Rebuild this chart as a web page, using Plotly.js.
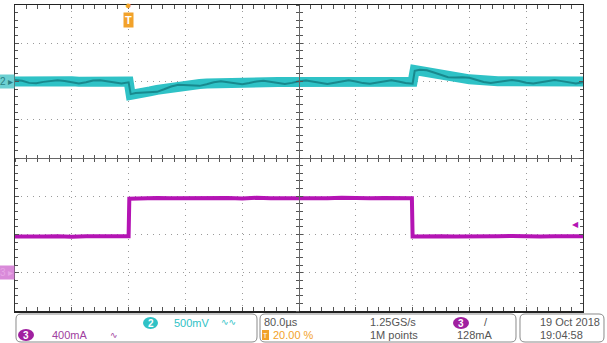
<!DOCTYPE html>
<html><head><meta charset="utf-8">
<script src="https://cdn.plot.ly/plotly-3.0.1.min.js"></script>
<style>html,body{margin:0;padding:0;background:#fff;}#chart{width:607px;height:343px;}</style>
</head><body><div id="chart"></div>
<script>
// ---- data ----
// Channel 2 (output voltage, AC view), time in µs, values in mV relative to its marker
const ch2Time = [-160,-150,-140,-130,-120,-110,-100,-90,-80,-70,-60,-50,-40,-30,-20,-10,0,
  3,10,20,30,40,50,60,70,80,90,100,110,120,130,140,150,160,170,180,190,200,210,220,230,240,250,260,270,280,290,300,310,320,330,340,350,360,370,380,390,400,
  403,410,420,430,440,450,460,470,480,490,500,510,520,530,540,550,560,570,580,590,600,610,620,630,640];
const ch2Band = [0,4,-3,2,5,0,-4,2,4,-2,0,3,-3,1,4,0,0,
  -175,-170,-150,-130,-110,-92,-76,-62,-50,-40,-32,-26,-21,-17,-14,-12,-11,-10,-9,-9,-8,-8,-7,-8,-7,-6,-7,-6,-6,-5,-6,-5,-5,-6,-5,-5,-4,-5,-4,-5,-4,
  150,142,128,112,96,80,62,45,28,16,9,5,3,2,0,1,-1,0,1,0,-1,0,1,0,0];
const ch2Ripple = [20,9,-18,-23,-5,10,16,7,-11,-27,-10,13,17,6,-11,-25,-10,
  -165,-150,-145,-145,-135,-102,-66,-42,-45,-55,-57,-36,-11,3,-9,-27,-36,-20,1,11,-3,-23,-32,-18,3,14,-2,-21,-31,-15,4,15,0,-21,-30,-15,6,15,1,-20,-29,
  140,152,148,117,81,55,52,55,48,21,-6,-20,-7,12,20,6,-16,-25,-9,10,19,5,-14,-25,-10];
// Channel 3 (load current), time in µs, values in mA
const ch3Time = [-160,-140,-120,-100,-80,-60,-40,-20,0,
  1,20,40,60,80,100,120,140,160,180,200,220,240,260,280,300,320,340,360,380,399,
  400,420,440,460,480,500,520,540,560,580,600,620,640];
const ch3Current = [378,384,380,383,377,382,385,379,381,
  775,780,783,778,781,785,779,782,777,784,780,778,783,781,779,785,780,778,782,783,779,
  380,376,382,379,383,377,381,384,378,380,383,379,382];
const triggerLevel = 500; // mA marker position
// readouts
const ch2Scale = "500mV", ch3Scale = "400mA", timeScale = "80.0µs", sampleRate = "1.25GS/s",
      trigPos = "20.00 %", recLen = "1M points", trigLvl = "128mA", dateTxt = "19 Oct 2018", timeTxt = "19:04:58";

// ---- layout helpers ----
const L = 15, T = 5, W = 568, H = 306;
const px = x => (x - L) / W;
const py = y => (T + H - y) / H;
function rrect(x0, y0, x1, y1, r) {
  const p = (x, y) => px(x).toFixed(5) + ',' + py(y).toFixed(5);
  return 'M' + p(x0 + r, y0) + ' L' + p(x1 - r, y0) + ' Q' + p(x1, y0) + ' ' + p(x1, y0 + r) +
    ' L' + p(x1, y1 - r) + ' Q' + p(x1, y1) + ' ' + p(x1 - r, y1) +
    ' L' + p(x0 + r, y1) + ' Q' + p(x0, y1) + ' ' + p(x0, y1 - r) +
    ' L' + p(x0, y0 + r) + ' Q' + p(x0, y0) + ' ' + p(x0 + r, y0) + ' Z';
}
const cyan = '#2fc2c6', cyanDark = '#137a80', mag = '#b414b4', orange = '#f2a22a', grey = '#555';

const traces = [
  {x: ch2Time, y: ch2Band, type: 'scatter', mode: 'lines', line: {color: cyan, width: 10}, xaxis: 'x', yaxis: 'y', hoverinfo: 'skip'},
  {x: ch2Time, y: ch2Ripple, type: 'scatter', mode: 'lines', line: {color: cyanDark, width: 2}, opacity: 0.8, xaxis: 'x', yaxis: 'y', hoverinfo: 'skip'},
  {x: ch3Time, y: ch3Current, type: 'scatter', mode: 'lines', line: {color: mag, width: 4}, xaxis: 'x', yaxis: 'y2', hoverinfo: 'skip'},
  // empty traces so the centre-cross axes get drawn
  {x: [], y: [], type: 'scatter', mode: 'lines', xaxis: 'x2', yaxis: 'y3', hoverinfo: 'skip'},
  {x: [], y: [], type: 'scatter', mode: 'lines', xaxis: 'x3', yaxis: 'y4', hoverinfo: 'skip'}
];

const baseAx = {showticklabels: false, zeroline: false, fixedrange: true};
const layout = {
  width: 607, height: 343, margin: {l: L, r: 607 - L - W, t: T, b: 343 - T - H},
  paper_bgcolor: '#fff', plot_bgcolor: '#fff', showlegend: false,
  font: {family: 'Liberation Sans, Arial, sans-serif', size: 11, color: grey},
  xaxis: Object.assign({}, baseAx, {range: [-160, 640], tick0: -160, dtick: 80, showgrid: true, gridcolor: '#9a9a9a', griddash: '1px,5px', gridwidth: 1,
    showline: true, linecolor: '#222', linewidth: 1.5, mirror: 'allticks', ticks: 'inside', ticklen: 4, tickcolor: grey,
    minor: {dtick: 16, tick0: -160, ticks: 'inside', ticklen: 3, tickcolor: grey, showgrid: false}}),
  yaxis: Object.assign({}, baseAx, {range: [-3000, 1000], tick0: -3000, dtick: 500, showgrid: true, gridcolor: '#9a9a9a', griddash: '1px,5px', gridwidth: 1,
    showline: true, linecolor: '#333', linewidth: 1.2, mirror: 'allticks', ticks: 'inside', ticklen: 4, tickcolor: grey,
    minor: {dtick: 100, tick0: -3000, ticks: 'inside', ticklen: 3, tickcolor: grey, showgrid: false}}),
  yaxis2: Object.assign({}, baseAx, {range: [-400, 2800], overlaying: 'y', showgrid: false, showline: false, ticks: ''}),
  xaxis2: Object.assign({}, baseAx, {range: [-160, 640], overlaying: 'x', anchor: 'free', position: 0.5, showgrid: false,
    showline: true, linecolor: '#666', linewidth: 1, ticks: 'outside', ticklen: 3, tickcolor: grey, tick0: -160, dtick: 16}),
  xaxis3: Object.assign({}, baseAx, {range: [-160, 640], overlaying: 'x', anchor: 'free', position: 0.5, showgrid: false,
    showline: false, ticks: 'inside', ticklen: 3, tickcolor: grey, tick0: -160, dtick: 16}),
  yaxis3: Object.assign({}, baseAx, {range: [-3000, 1000], overlaying: 'y', anchor: 'free', position: 0.5, showgrid: false,
    showline: true, linecolor: '#666', linewidth: 1, ticks: 'outside', ticklen: 3, tickcolor: grey, tick0: -3000, dtick: 100}),
  yaxis4: Object.assign({}, baseAx, {range: [-3000, 1000], overlaying: 'y', anchor: 'free', position: 0.5, showgrid: false,
    showline: false, ticks: 'inside', ticklen: 3, tickcolor: grey, tick0: -3000, dtick: 100}),
  shapes: [
    {type: 'path', xref: 'paper', yref: 'paper', path: rrect(16, 314, 257, 342, 5), line: {color: '#8a8a8a', width: 1}},
    {type: 'path', xref: 'paper', yref: 'paper', path: rrect(260, 314, 516, 342, 5), line: {color: '#8a8a8a', width: 1}},
    {type: 'path', xref: 'paper', yref: 'paper', path: rrect(520, 314, 604, 342, 5), line: {color: '#8a8a8a', width: 1}},
    {type: 'circle', xref: 'paper', yref: 'paper', x0: px(143), x1: px(158), y0: py(329), y1: py(317), fillcolor: cyan, line: {width: 0}},
    {type: 'circle', xref: 'paper', yref: 'paper', x0: px(18), x1: px(34), y0: py(341), y1: py(329), fillcolor: '#a020a0', line: {width: 0}},
    {type: 'circle', xref: 'paper', yref: 'paper', x0: px(453), x1: px(469), y0: py(329), y1: py(317), fillcolor: '#a020a0', line: {width: 0}},
    {type: 'rect', xref: 'paper', yref: 'paper', x0: px(262), x1: px(269), y0: py(340), y1: py(330), fillcolor: orange, line: {width: 0}}
  ],
  annotations: [
    // channel markers
    {xref: 'paper', yref: 'y', x: 0, y: 0, xanchor: 'right', yanchor: 'middle', text: '2 ▸', showarrow: false, bgcolor: '#6cd0d2', font: {size: 10, color: '#2a7f82'}, borderpad: 1},
    {xref: 'paper', yref: 'y2', x: 0, y: 0, xanchor: 'right', yanchor: 'middle', text: '3 ▸', showarrow: false, bgcolor: '#d98ad9', font: {size: 10, color: '#e6a6e6'}, borderpad: 1},
    // trigger position marker
    {xref: 'x', yref: 'paper', x: 0, y: 1, yanchor: 'middle', text: '●', showarrow: false, font: {size: 11, color: orange}},
    {xref: 'x', yref: 'paper', x: 0, y: 1, yanchor: 'top', yshift: -7, text: '<b>T</b>', showarrow: false, bgcolor: orange, font: {size: 11, color: '#fff'}, borderpad: 1},
    // trigger level marker
    {xref: 'x', yref: 'y2', x: 640, y: triggerLevel, xanchor: 'right', yanchor: 'middle', xshift: -2, text: '◀', showarrow: false, font: {size: 8, color: mag}},
    // readouts
    {xref: 'paper', yref: 'paper', x: px(150.5), y: py(323), xanchor: 'center', yanchor: 'middle', text: '<b>2</b>', showarrow: false, font: {size: 10, color: '#fff'}},
    {xref: 'paper', yref: 'paper', x: px(172), y: py(323), xanchor: 'left', yanchor: 'middle', text: ch2Scale, showarrow: false, font: {size: 11, color: cyan}},
    {xref: 'paper', yref: 'paper', x: px(219), y: py(322), xanchor: 'left', yanchor: 'middle', text: '∿∿', showarrow: false, font: {family: 'DejaVu Sans', size: 9, color: cyan}},
    {xref: 'paper', yref: 'paper', x: px(26), y: py(335), xanchor: 'center', yanchor: 'middle', text: '<b>3</b>', showarrow: false, font: {size: 10, color: '#fff'}},
    {xref: 'paper', yref: 'paper', x: px(50), y: py(335), xanchor: 'left', yanchor: 'middle', text: ch3Scale, showarrow: false, font: {size: 11, color: '#a040a0'}},
    {xref: 'paper', yref: 'paper', x: px(108), y: py(335), xanchor: 'left', yanchor: 'middle', text: '∿', showarrow: false, font: {family: 'DejaVu Sans', size: 9, color: '#a040a0'}},
    {xref: 'paper', yref: 'paper', x: px(262), y: py(322), xanchor: 'left', yanchor: 'middle', text: timeScale, showarrow: false, font: {size: 11, color: grey}},
    {xref: 'paper', yref: 'paper', x: px(368), y: py(322), xanchor: 'left', yanchor: 'middle', text: sampleRate, showarrow: false, font: {size: 11, color: grey}},
    {xref: 'paper', yref: 'paper', x: px(461), y: py(323), xanchor: 'center', yanchor: 'middle', text: '<b>3</b>', showarrow: false, font: {size: 10, color: '#fff'}},
    {xref: 'paper', yref: 'paper', x: px(482), y: py(322), xanchor: 'left', yanchor: 'middle', text: '/', showarrow: false, font: {size: 11, color: grey}},
    {xref: 'paper', yref: 'paper', x: px(265.5), y: py(335), xanchor: 'center', yanchor: 'middle', text: 'T', showarrow: false, font: {size: 7, color: '#fff'}},
    {xref: 'paper', yref: 'paper', x: px(271), y: py(335), xanchor: 'left', yanchor: 'middle', text: trigPos, showarrow: false, font: {size: 11, color: orange}},
    {xref: 'paper', yref: 'paper', x: px(368), y: py(335), xanchor: 'left', yanchor: 'middle', text: recLen, showarrow: false, font: {size: 11, color: grey}},
    {xref: 'paper', yref: 'paper', x: px(455), y: py(335), xanchor: 'left', yanchor: 'middle', text: trigLvl, showarrow: false, font: {size: 11, color: grey}},
    {xref: 'paper', yref: 'paper', x: px(538), y: py(322), xanchor: 'left', yanchor: 'middle', text: dateTxt, showarrow: false, font: {size: 11, color: grey}},
    {xref: 'paper', yref: 'paper', x: px(538), y: py(335), xanchor: 'left', yanchor: 'middle', text: timeTxt, showarrow: false, font: {size: 11, color: grey}}
  ]
};
Plotly.newPlot('chart', traces, layout, {staticPlot: true, displayModeBar: false});
</script></body></html>
